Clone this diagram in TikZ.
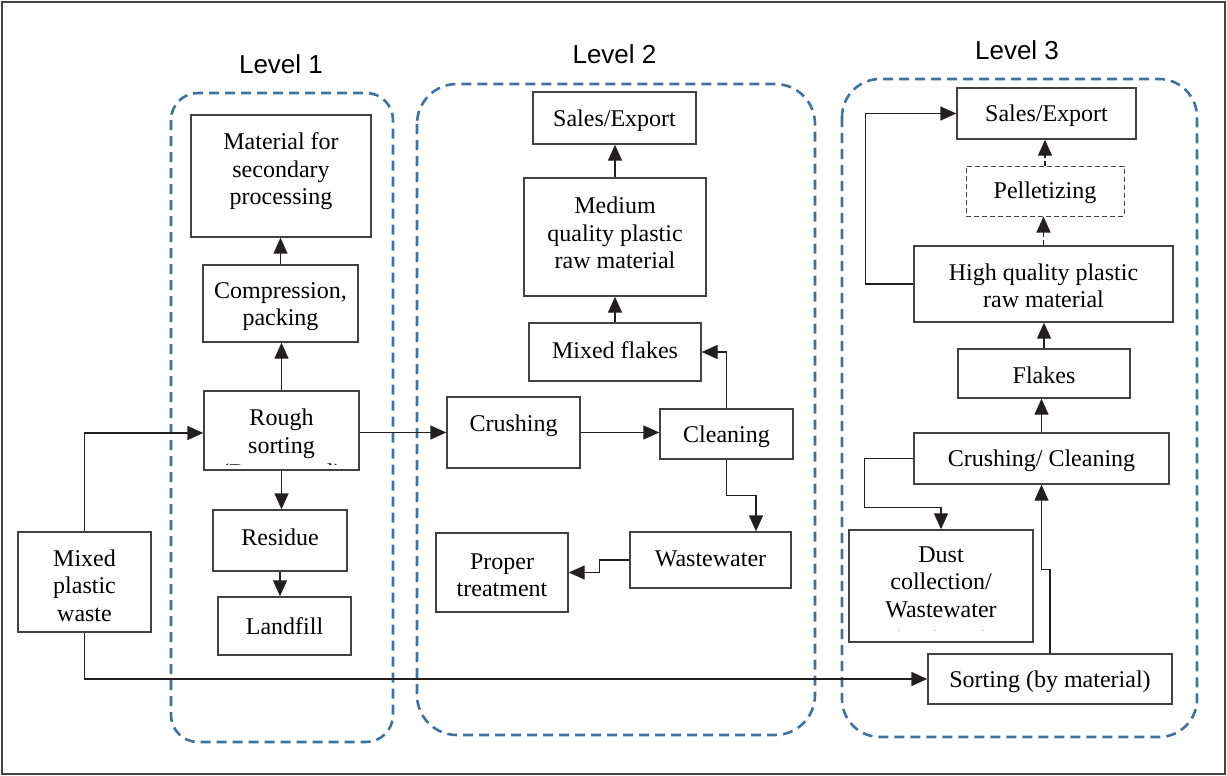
\documentclass[tikz,border=0pt]{standalone}
\usepackage{fontspec}
\setmainfont{Liberation Serif}
\newfontfamily\lvlfont{Liberation Sans}
\usetikzlibrary{arrows.meta}
\definecolor{lvlblue}{RGB}{65,113,156}
\definecolor{ink}{RGB}{35,31,32}
% box with text (clipped to the box, inset from the bottom by the optional value)
\newcommand{\bx}[7][0]{%
  \node[box,minimum width=#4,minimum height=#5,
    path picture={\clip ([yshift=#1]path picture bounding box.south west) rectangle (path picture bounding box.north east);
      \node[txt] at ([yshift=#6]path picture bounding box.center) {#7};}]
    (#2) at (#3) {};}
\begin{document}
\begin{tikzpicture}[x=1pt,y=-1pt,
  box/.style={draw=ink!85, line width=1.4pt, inner sep=0pt, rectangle},
  txt/.style={align=center, inner sep=0pt, font=\fontsize{24}{27.5}\selectfont},
  arr/.style={draw=ink, line width=1.4pt, -{Triangle[length=16pt,width=14pt]}},
  level/.style={draw=lvlblue, line width=2.6pt, dash pattern=on 10pt off 6pt},
  lvllabel/.style={font=\lvlfont\fontsize{26}{30}\selectfont, inner sep=0pt},
  dbox/.style={dash pattern=on 5pt off 3pt, line width=1pt}]
\useasboundingbox (0,0) rectangle (1227,776);
\draw[ink!85, line width=2pt] (2,2) rectangle (1225,774);
% level containers
\draw[level, rounded corners=27pt] (171,93) rectangle (393,742);
\draw[level, rounded corners=40pt] (417,84) rectangle (815,735);
\draw[level, rounded corners=38pt] (842,79) rectangle (1197,737);
\node[lvllabel] (l1) at (281,64) {Level 1};
\node[lvllabel] (l2) at (614.5,54) {Level 2};
\node[lvllabel] (l3) at (1017,50) {Level 3};
% level 1
\bx{mpw}{84.5,582}{133}{100}{-3.5}{Mixed\\plastic\\waste}
\bx[6]{rs}{281.5,430.5}{155}{79}{-17}{Rough\\sorting\\(By manual)}
\bx{cp}{280.5,303.5}{155}{77}{-3}{Compression,\\packing}
\bx{mat}{281,176}{180}{122}{4.5}{Material for\\secondary\\processing}
\bx{res}{280,540.5}{134}{61}{3.5}{Residue}
\bx{lf}{284.5,626}{133}{58}{0}{Landfill}
% level 2
\bx{cr}{513.5,432.5}{133}{71}{6.5}{Crushing}
\bx{cl}{726.5,434}{133}{50}{-3}{Cleaning}
\bx{mf}{615,352}{172}{58}{2}{Mixed flakes}
\bx{med}{615,237}{182}{118}{4}{Medium\\quality plastic\\raw material}
\bx{s2}{614.5,118}{163}{52}{-3}{Sales/Export}
\bx{ww}{710.5,560}{161}{56}{1}{Wastewater}
\bx{pt}{502,572.5}{132}{79}{-3}{Proper\\treatment}
% level 3
\bx{s3}{1046.5,113.5}{179}{51}{-2}{Sales/Export}
\node[box,dbox,minimum width=158,minimum height=50,
  path picture={\node[txt] at ([yshift=-2]path picture bounding box.center) {Pelletizing};}]
  (pel) at (1045,191) {};
\bx{hq}{1043.5,284}{259}{76}{-2}{High quality plastic\\raw material}
\bx{fl}{1044,373.5}{172}{49}{-2}{Flakes}
\bx{cc}{1041.5,458.5}{255}{51}{-2}{Crushing/ Cleaning}
\bx[11.5]{dust}{941,586}{184}{112}{-10}{Dust\\collection/\\Wastewater\\treatment}
\bx{sort}{1050,679}{244}{50}{-3}{Sorting (by material)}
% connectors level 1
\draw[arr] (mpw.north) |- ([yshift=-2.5pt]rs.west);
\draw[arr] (mpw.south) |- (sort.west);
\draw[arr] (rs.north) -- (rs.north |- cp.south);
\draw[arr] (cp.north) -- (cp.north |- mat.south);
\draw[arr] (rs.south) -- (rs.south |- res.north);
\draw[arr] (res.south) -- (res.south |- lf.north);
% connectors level 2
\draw[arr] (rs.east |- cr.west) -- (cr.west);
\draw[arr] (cr.east) -- (cr.east -| cl.west);
\draw[arr] (cl.north) |- (mf.east);
\draw[arr] (cl.south) -- ++(0,36) -| ([xshift=45.5pt]ww.north);
\draw[arr] (ww.west) -- ++(-30,0) |- (pt.east);
\draw[arr] (mf.north) -- (mf.north |- med.south);
\draw[arr] (med.north) -- (med.north |- s2.south);
% connectors level 3
\draw[arr] (sort.north) -- ++(0,-84) -| (cc.south);
\draw[arr] (cc.west) -- ++(-49,0) -- ++(0,49) -| (dust.north);
\draw[arr] (cc.north) -- (cc.north |- fl.south);
\draw[arr] (fl.north) -- (fl.north |- hq.south);
\draw[arr, dash pattern=on 5pt off 3pt] (hq.north) -- (hq.north |- pel.south);
\draw[arr, dash pattern=on 5pt off 3pt] (pel.north) -- (pel.north |- s3.south);
\draw[arr] (hq.west) -- ++(-48,0) |- (s3.west);
\end{tikzpicture}
\end{document}
